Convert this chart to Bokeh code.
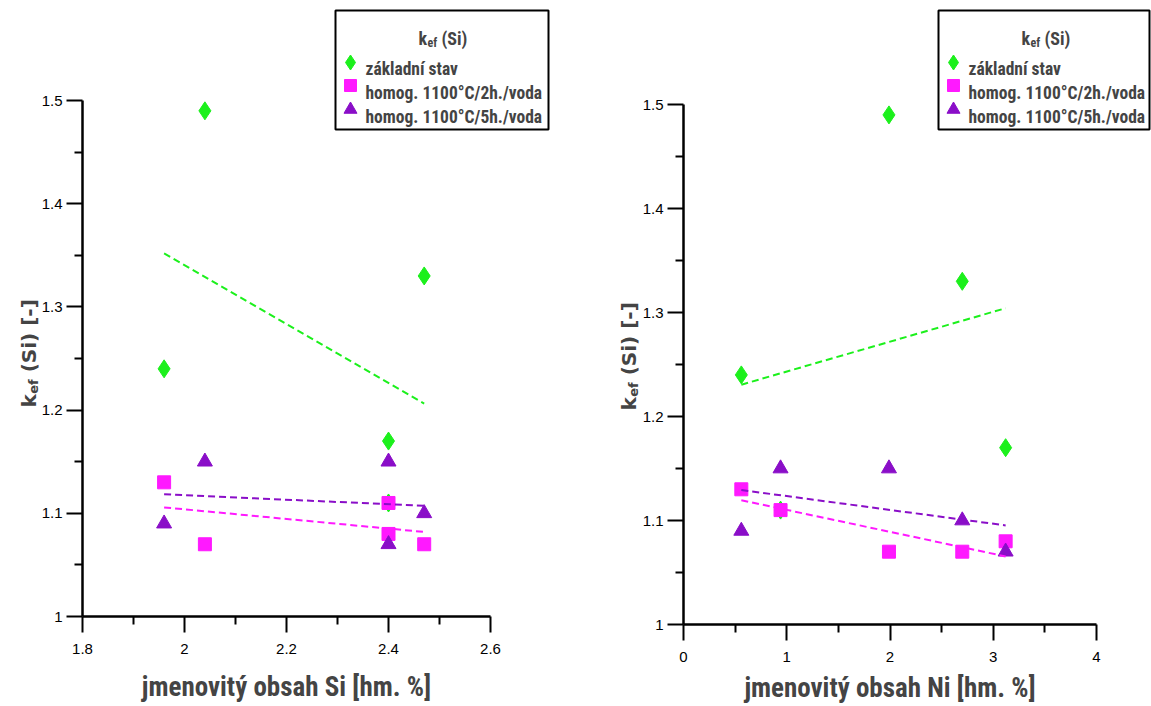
import numpy as np
from bokeh.plotting import figure
from bokeh.models import Range1d, FixedTicker, CustomJSTickFormatter, Label
from bokeh.layouts import row
from bokeh.embed import file_html
from bokeh.resources import INLINE

# ---------------- data ----------------
si = [1.96, 2.04, 2.47, 2.40, 2.40]          # jmenovitý obsah Si [hm. %]
ni = [0.56, 1.99, 2.70, 3.12, 0.94]          # jmenovitý obsah Ni [hm. %]
k_zakladni = [1.24, 1.49, 1.33, 1.17, 1.11]  # základní stav
k_2h = [1.13, 1.07, 1.07, 1.08, 1.11]        # homog. 1100°C/2h./voda
k_5h = [1.09, 1.15, 1.10, 1.07, 1.15]        # homog. 1100°C/5h./voda

series_names = ["základní stav", "homog. 1100°C/2h./voda", "homog. 1100°C/5h./voda"]
series_values = [k_zakladni, k_2h, k_5h]
colors = ["#1cf01c", "#ff19ff", "#8a0ec8"]
markers = ["diamond", "square", "triangle"]
sizes = [18, 13, 15]
legend_sizes = [15, 12, 13]

si_ticks = [1.8, 2.0, 2.2, 2.4, 2.6]
si_minor = [1.9, 2.1, 2.3, 2.5]
ni_ticks = [0, 1, 2, 3, 4]
ni_minor = [0.5, 1.5, 2.5, 3.5]
k_ticks = [1.0, 1.1, 1.2, 1.3, 1.4, 1.5]
k_minor = [1.05, 1.15, 1.25, 1.35, 1.45]

H = 706
LFONT = "Liberation Sans"
NFONT = "Roboto Condensed"
YFONT = "DejaVu Sans"


def make_panel(xs, xlabel, x_ticks, x_minor, W, x0_px, x_end_px, y0_px, y_top_px, xlab_base,
               lb_l, lb_r, ylab_x, ylab_y):
    # canvas pixel layout -> data ranges (frame covers the whole canvas)
    x_ppu = (x_end_px - x0_px) / (x_ticks[-1] - x_ticks[0])
    y_ppu = (y0_px - y_top_px) / (k_ticks[-1] - k_ticks[0])
    xs0 = x_ticks[0] - x0_px / x_ppu
    ys0 = k_ticks[0] - (H - y0_px) / y_ppu
    p = figure(width=W, height=H,
               x_range=Range1d(xs0, xs0 + W / x_ppu),
               y_range=Range1d(ys0, ys0 + H / y_ppu),
               output_backend="svg", toolbar_location=None,
               min_border=0, min_border_left=0, min_border_right=0,
               min_border_top=0, min_border_bottom=0)
    p.outline_line_color = None
    p.grid.visible = False
    p.background_fill_color = "white"
    p.border_fill_color = "white"
    p.extra_x_ranges = {"px": Range1d(0, W)}
    p.extra_y_ranges = {"px": Range1d(0, H)}

    fmt = CustomJSTickFormatter(code="return String(Math.round(tick*100)/100);")
    p.xaxis[0].fixed_location = k_ticks[0]
    p.yaxis[0].fixed_location = x_ticks[0]
    for ax, ticks, minor in ((p.xaxis[0], x_ticks, x_minor), (p.yaxis[0], k_ticks, k_minor)):
        ax.ticker = FixedTicker(ticks=ticks, minor_ticks=minor)
        ax.bounds = (ticks[0], ticks[-1])
        ax.formatter = fmt
        ax.axis_line_width = 2.5
        ax.axis_line_color = "black"
        ax.major_tick_out = 16
        ax.major_tick_in = 0
        ax.minor_tick_out = 8
        ax.minor_tick_in = 0
        ax.major_tick_line_width = 2
        ax.minor_tick_line_width = 2
        ax.major_tick_line_color = "black"
        ax.minor_tick_line_color = "black"
        ax.major_label_text_font = LFONT
        ax.major_label_text_font_size = "15px"
        ax.major_label_text_color = "black"
    p.xaxis[0].major_label_standoff = 11
    p.yaxis[0].major_label_standoff = 4

    def cy(v):
        return H - v

    # data markers
    for vals, col, mk, sz in zip(series_values, colors, markers, sizes):
        p.scatter(xs, vals, marker=mk, size=sz, fill_color=col, line_color=col)
    # linear trend lines
    for vals, col in zip(series_values, colors):
        coef = np.polyfit(xs, vals, 1)
        xl = [min(xs), max(xs)]
        p.line(xl, list(np.polyval(coef, xl)), line_color=col, line_width=2, line_dash="7 4")

    # legend box (pixel space)
    p.quad(left=[lb_l], right=[lb_r], top=[cy(10)], bottom=[cy(129)],
           x_range_name="px", y_range_name="px",
           fill_color="white", line_color="black", line_width=2)
    mk_y = [62, 85, 109]
    p.scatter([lb_l + 15] * 3, [cy(v) for v in mk_y], marker=markers, size=legend_sizes,
              fill_color=colors, line_color=colors, x_range_name="px", y_range_name="px")
    for name, base in zip(series_names, [68, 92, 116]):
        p.add_layout(Label(x=lb_l + 30, y=cy(base), text=name, x_range_name="px", y_range_name="px",
                           text_font=NFONT, text_font_style="bold", text_font_size="17.5px",
                           text_baseline="alphabetic", text_align="left"))
    tx = lb_l + 83
    p.add_layout(Label(x=tx, y=cy(38), text="k", x_range_name="px", y_range_name="px",
                       text_font=NFONT, text_font_style="bold", text_font_size="18px",
                       text_baseline="alphabetic"))
    p.add_layout(Label(x=tx + 9, y=cy(42), text="ef", x_range_name="px", y_range_name="px",
                       text_font=NFONT, text_font_style="bold", text_font_size="12px",
                       text_baseline="alphabetic"))
    p.add_layout(Label(x=tx + 23, y=cy(38), text="(Si)", x_range_name="px", y_range_name="px",
                       text_font=NFONT, text_font_style="bold", text_font_size="18px",
                       text_baseline="alphabetic"))

    # y-axis title  k_ef (Si) [-]
    for txt, dx, dy, fs in (("k", 0, 0, "20px"), ("ef", 5, 13.7, "13px"), ("(Si) [-]", 0, 35.2, "20px")):
        p.add_layout(Label(x=ylab_x + dx, y=cy(ylab_y - dy), text=txt, angle=np.pi / 2,
                           x_range_name="px", y_range_name="px",
                           text_font=YFONT, text_font_style="bold", text_font_size=fs,
                           text_baseline="alphabetic", text_align="left"))
    # x-axis title
    p.add_layout(Label(x=(x0_px + x_end_px) / 2, y=cy(xlab_base), text=xlabel,
                       x_range_name="px", y_range_name="px",
                       text_font=NFONT, text_font_style="bold", text_font_size="27px",
                       text_baseline="alphabetic", text_align="center"))
    return p


p1 = make_panel(si, "jmenovitý obsah Si [hm. %]", si_ticks, si_minor, 575, 82, 490, 616, 100, 686,
                335, 548, 28, 407)
p2 = make_panel(ni, "jmenovitý obsah Ni [hm. %]", ni_ticks, ni_minor, 576, 108, 521, 624, 104, 687,
                363, 574, 53, 410)

layout = row(p1, p2)
open("out.html", "w").write(file_html(layout, INLINE))
